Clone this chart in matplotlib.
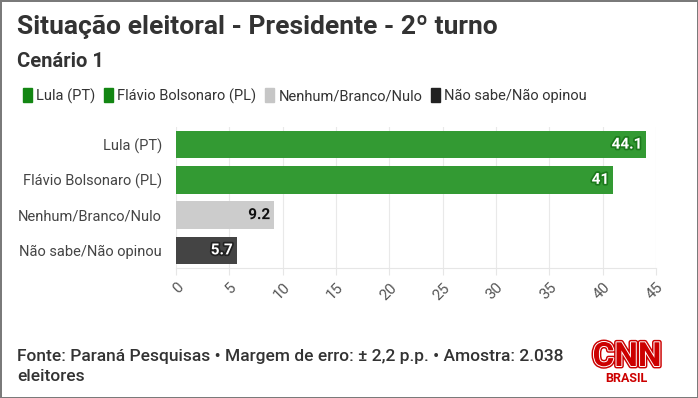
import matplotlib
matplotlib.use("Agg")
import matplotlib.pyplot as plt
import matplotlib.patheffects as pe
from matplotlib.patches import Patch

categorias = ["Lula (PT)", "Flávio Bolsonaro (PL)", "Nenhum/Branco/Nulo", "Não sabe/Não opinou"]
valores = [44.1, 41, 9.2, 5.7]
rotulos = ["44.1", "41", "9.2", "5.7"]
cores_barra = ["#339a33", "#339a33", "#cccccc", "#444444"]
cores_legenda = ["#138613", "#138613", "#c6c6c6", "#222222"]
cores_texto = ["white", "white", "#111111", "white"]
cores_contorno = ["#1c7a1c", "#1c7a1c", "#cccccc", "#222222"]
ticks_x = [0, 5, 10, 15, 20, 25, 30, 35, 40, 45]

titulo = "Situação eleitoral - Presidente - 2º turno"
subtitulo = "Cenário 1"
fonte = "Fonte: Paraná Pesquisas • Margem de erro: ± 2,2 p.p. • Amostra: 2.038\neleitores"

plt.rcParams['font.family'] = ['Roboto', 'DejaVu Sans']

fig = plt.figure(figsize=(6.98, 3.98), dpi=100)
fig.patch.set_facecolor("white")
fig.patch.set_edgecolor("#7a7a7a")
fig.patch.set_linewidth(2)

ax = fig.add_axes([176 / 698, 1 - 268 / 398, 480 / 698, 141 / 398])
y = range(len(categorias))
ax.barh(y, valores, height=0.78, color=cores_barra, zorder=3)
ax.set_ylim(3.5, -0.5)
ax.set_xlim(0, 45)
ax.set_yticks(list(y))
ax.set_yticklabels(categorias, fontsize=10.5, color="#444444")
ax.set_xticks(ticks_x)
ax.set_xticklabels([str(t) for t in ticks_x], rotation=45, ha="right", va="top",
                   rotation_mode="anchor", fontsize=11, color="#555555")
ax.tick_params(axis="y", length=0, pad=10)
ax.tick_params(axis="x", length=5, color="#e6e6e6", pad=4)
ax.grid(axis="x", color="#e9e9e9", linewidth=0.8, zorder=0)
for s in ["top", "right", "left"]:
    ax.spines[s].set_visible(False)
ax.spines["bottom"].set_color("#e6e6e6")

for i, v in enumerate(valores):
    ax.annotate(rotulos[i], (v, i), xytext=(-3, 0), textcoords="offset points",
                ha="right", va="center", fontsize=11, fontweight="bold",
                color=cores_texto[i], zorder=4,
                path_effects=[pe.withStroke(linewidth=2.5, foreground=cores_contorno[i])])

fig.text(17 / 698, 1 - 34 / 398, titulo, fontsize=19, fontweight="bold", color="#333333")
fig.text(17 / 698, 1 - 67 / 398, subtitulo, fontsize=14.5, fontweight="bold", color="#333333")

handles = [Patch(facecolor=c, edgecolor=c, joinstyle="round") for c in cores_legenda]
fig.legend(handles, categorias, loc="center left", bbox_to_anchor=(10 / 698, 1 - 96 / 398),
           ncol=4, frameon=False, handlelength=0.6, handleheight=1.1, handletextpad=0.3,
           columnspacing=0.6, prop={"size": 10.5}, labelcolor="#333333")

fig.text(17 / 698, 1 - 384 / 398, fonte, fontsize=12.5, fontweight="medium", color="#333333",
         linespacing=1.4, va="bottom")

fig.text(627 / 698, 1 - 366 / 398, "CNN", fontsize=24, fontweight="bold", color="#cc0000",
         ha="center", va="baseline",
         path_effects=[pe.Stroke(linewidth=3.5, foreground="#cc0000"),
                       pe.Stroke(linewidth=1.4, foreground="white"), pe.Normal()])
fig.text(626 / 698, 1 - 382 / 398, "BRASIL", fontsize=9, fontweight="bold", color="#cc0000",
         ha="center", va="baseline")

fig.savefig("out.png", dpi=100, facecolor=fig.get_facecolor(), edgecolor=fig.get_edgecolor())
